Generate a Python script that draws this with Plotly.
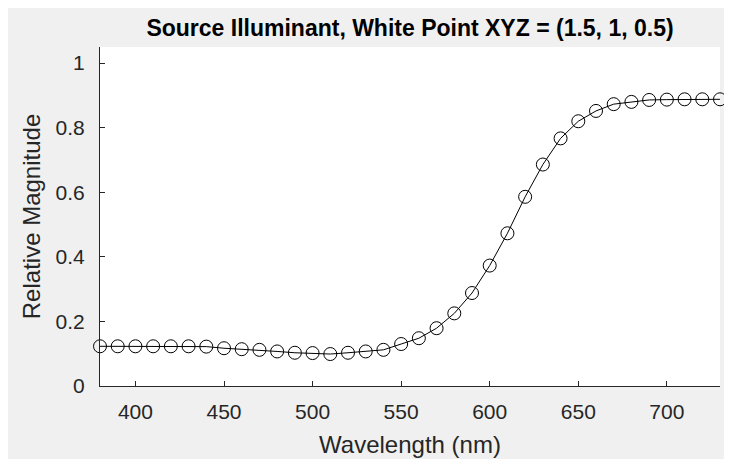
import plotly.graph_objects as go

wavelength = list(range(380, 731, 10))
magnitude = [0.123, 0.123, 0.123, 0.123, 0.123, 0.123, 0.122, 0.117, 0.114, 0.112,
             0.107, 0.103, 0.102, 0.099, 0.103, 0.107, 0.112, 0.130, 0.148, 0.179,
             0.225, 0.288, 0.373, 0.473, 0.586, 0.686, 0.767, 0.820, 0.852, 0.873,
             0.880, 0.886, 0.887, 0.888, 0.888, 0.888]
x_ticks = [400, 450, 500, 550, 600, 650, 700]
y_ticks = [0, 0.2, 0.4, 0.6, 0.8, 1]
y_tick_labels = ["0", "0.2", "0.4", "0.6", "0.8", "1"]

axis_color = "#262626"
font_family = "Liberation Sans, Arial, sans-serif"

fig = go.Figure()
fig.add_trace(go.Scatter(
    x=wavelength, y=magnitude, mode="lines+markers",
    line=dict(color="black", width=1),
    marker=dict(symbol="circle-open", size=13, color="black", line=dict(width=1, color="#333333")),
    cliponaxis=False, showlegend=False,
))

fig.update_layout(
    width=732, height=459,
    paper_bgcolor="#f0f0f0", plot_bgcolor="white",
    margin=dict(l=92, r=20, t=39, b=81),
    font=dict(family=font_family, color=axis_color),
    title=dict(text="<b>Source Illuminant, White Point XYZ = (1.5, 1, 0.5)</b>",
               x=0.5, xref="paper", xanchor="center", y=0.957, yanchor="middle",
               font=dict(size=23, color="black", family=font_family)),
    xaxis=dict(range=[380, 730], tickvals=x_ticks, ticks="inside", ticklen=5,
               tickcolor=axis_color, showline=True, linecolor=axis_color, linewidth=1,
               showgrid=False, zeroline=False, tickfont=dict(size=21, color=axis_color),
               ticklabelstandoff=7,
               title=dict(text="Wavelength (nm)", font=dict(size=24, color=axis_color), standoff=13)),
    yaxis=dict(range=[0, 1.05], tickvals=y_ticks, ticktext=y_tick_labels, ticks="inside", ticklen=5,
               tickcolor=axis_color, showline=True, linecolor=axis_color, linewidth=1,
               showgrid=False, zeroline=False, tickfont=dict(size=21, color=axis_color),
               ticklabelstandoff=10,
               title=dict(text="Relative Magnitude", font=dict(size=24, color=axis_color), standoff=8)),
)

fig.write_html("out.html")
